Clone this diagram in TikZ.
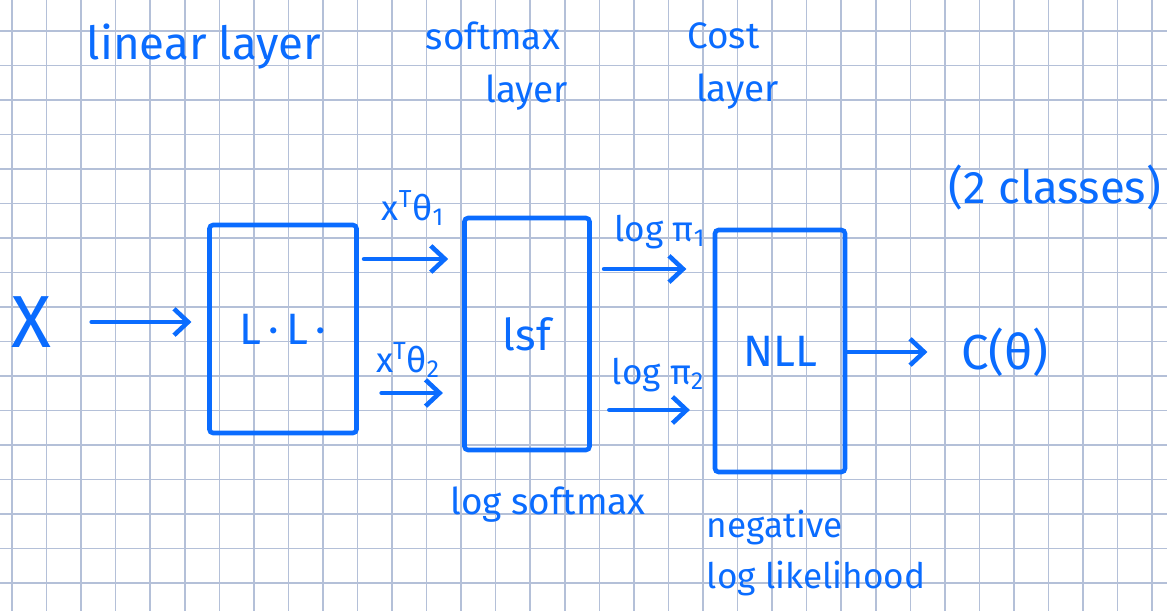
\documentclass[tikz,border=0pt]{standalone}
\usepackage{fontspec}
\setmainfont{Fira Sans}
\usepackage{xcolor}
\usetikzlibrary{arrows.meta,positioning}

\definecolor{ink}{RGB}{10,108,255}
\definecolor{gridline}{RGB}{180,192,216}

\begin{document}
\begin{tikzpicture}[
  x=0.02cm, y=-0.02cm,
  layerbox/.style={rectangle, draw=ink, line width=2.6pt, rounded corners=2pt,
                   text=ink, font=\fontsize{25}{28}\selectfont},
  arr/.style={-{Straight Barb[length=8pt, width=15pt]}, ink, line width=2.6pt,
              line cap=round},
  hand/.style={text=ink, font=\fontsize{21}{30}\selectfont, inner sep=0pt},
  small/.style={hand, font=\fontsize{20}{22}\selectfont}
]

%% Paper with grid
\fill[white] (0,0) rectangle (1167,611);
\useasboundingbox (0,0) rectangle (1167,611);
\foreach \k in {0,...,33}
  \draw[gridline, line width=0.9pt] ({12+34.55*\k},0) -- ({12+34.55*\k},611);
\foreach \k in {0,...,16}
  \draw[gridline, line width=0.9pt] (0,{31+34.5*\k}) -- (1167,{31+34.5*\k});

%% Layer headings
\node[hand, font=\fontsize{26}{30}\selectfont] (linhead) at (204,47) {linear layer};
\node[hand, align=left] (smhead) at (497,66) {softmax\\\hspace*{34pt}layer};
\node[hand, align=left] (costhead) at (733,66) {Cost\\\hspace*{5pt}layer};
\node[hand, font=\fontsize{26}{30}\selectfont] (ncls) at (1055,188) {(2 classes)};

%% Layers
\node[hand, font=\fontsize{42}{42}\selectfont] (xin) at (31,322) {X};
\node[layerbox, minimum width=2.94cm, minimum height=4.16cm] (ll) at (283,329) {L\,·\,L\,·};
\node[layerbox, minimum width=2.5cm, minimum height=4.64cm] (lsf) at (527,334) {lsf};
\node[layerbox, minimum width=2.6cm, minimum height=4.84cm] (nll) at (780,351) {NLL};
\node[hand, font=\fontsize{28}{30}\selectfont] (cost) at (1005,352) {C(θ)};

%% Layer names below
\node[hand] (lsfname) at (548,505) {log softmax};
\node[hand, align=left, font=\fontsize{20}{29}\selectfont] (nllname) at (816,553) {negative\\log likelihood};

%% Arrows into and out of the layers
\draw[arr, shorten <=23pt, shorten >=9pt] (xin.east) -- (xin.east -| ll.west);
\draw[arr, shorten <=3pt, shorten >=8pt] (ll.east |- 0,259) -- (lsf.west |- 0,259);
\draw[arr, shorten <=13pt, shorten >=11pt] (ll.east |- 0,393) -- (lsf.west |- 0,393);
\draw[arr, shorten <=7pt, shorten >=15pt] (lsf.east |- 0,269) -- (nll.west |- 0,269);
\draw[arr, shorten <=10pt, shorten >=13pt] (lsf.east |- 0,410) -- (nll.west |- 0,410);
\draw[arr, shorten >=19pt] (nll.east |- cost) -- (cost.west);

%% Arrow labels
\node[small] (z1) at (413,208) {x\textsuperscript{T}θ\textsubscript{1}};
\node[small] (z2) at (408,360) {x\textsuperscript{T}θ\textsubscript{2}};
\node[small] (p1) at (660,232) {log π\textsubscript{1}};
\node[small] (p2) at (658,375) {log π\textsubscript{2}};

\end{tikzpicture}
\end{document}
